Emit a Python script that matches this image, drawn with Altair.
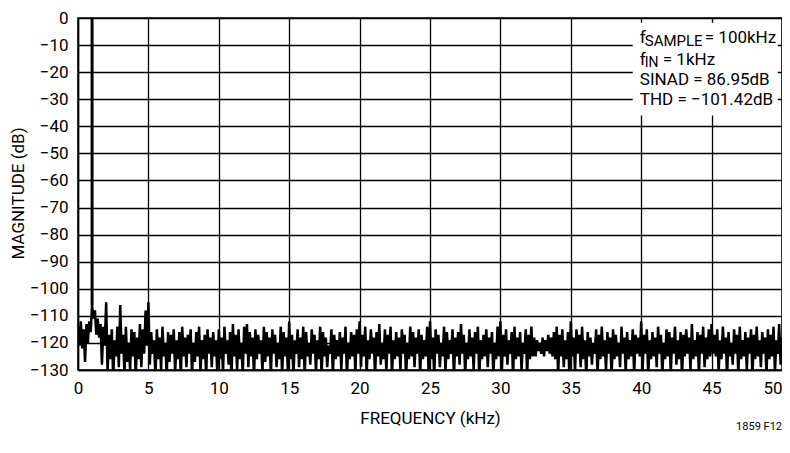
import altair as alt
import pandas as pd

FONT = "Roboto, Liberation Sans, Arial, sans-serif"

# FFT magnitude (dB), one value every 0.1 kHz, split per 5 kHz
seg_00_05 = [-114,-121,-112,-122,-115,-127,-113,-120,-112,-116,
             -106,-111,-108,-117,-111,-118,-113,-128,-114,-121,
             -105,-131,-117,-126,-115,-133,-119,-125,-114,-129,
             -106,-124,-117,-132,-114,-127,-120,-130,-115,-125,
             -116,-133,-118,-126,-113,-129,-115,-124,-108,-121]
seg_05_10 = [-105,-128,-116,-124,-119,-133,-115,-126,-118,-130,
             -114,-125,-120,-132,-116,-127,-117,-124,-115,-131,
             -119,-126,-116,-133,-114,-125,-118,-129,-117,-124,
             -115,-132,-120,-127,-116,-125,-114,-131,-119,-126,
             -117,-133,-115,-124,-118,-129,-116,-125,-119,-132]
seg_10_15 = [-115,-126,-118,-131,-114,-124,-119,-128,-116,-133,
             -113,-125,-117,-130,-115,-126,-120,-132,-114,-124,
             -113,-129,-116,-125,-118,-133,-115,-126,-117,-124,
             -119,-131,-114,-127,-116,-125,-118,-132,-115,-124,
             -117,-129,-120,-126,-114,-133,-116,-125,-118,-130]
seg_15_20 = [-112,-126,-117,-132,-119,-124,-115,-129,-118,-126,
             -114,-133,-116,-125,-120,-128,-115,-124,-117,-131,
             -119,-126,-114,-133,-116,-125,-118,-129,-121,-124,
             -115,-132,-117,-126,-119,-125,-116,-130,-118,-124,
             -114,-133,-120,-126,-116,-125,-117,-131,-115,-124]
seg_20_25 = [-112,-129,-117,-125,-114,-132,-119,-126,-115,-124,
             -118,-133,-116,-125,-113,-128,-120,-126,-115,-131,
             -117,-124,-114,-132,-119,-126,-116,-125,-118,-130,
             -115,-124,-117,-133,-120,-126,-114,-125,-116,-129,
             -118,-124,-115,-132,-117,-126,-119,-125,-114,-131]
seg_25_30 = [-112,-126,-118,-133,-115,-124,-117,-129,-120,-125,
             -114,-131,-116,-126,-119,-124,-115,-133,-118,-125,
             -116,-128,-113,-124,-117,-132,-120,-126,-115,-125,
             -118,-130,-116,-124,-114,-133,-119,-126,-117,-125,
             -115,-129,-118,-124,-116,-132,-120,-126,-114,-125]
seg_30_35 = [-112,-131,-117,-125,-115,-128,-119,-124,-116,-133,
             -114,-126,-118,-125,-116,-130,-120,-124,-115,-132,
             -117,-126,-114,-125,-118,-125,-119,-123,-120,-124,
             -118,-125,-119,-123,-117,-124,-118,-125,-116,-126,
             -114,-132,-117,-125,-115,-129,-119,-126,-116,-133]
seg_35_40 = [-112,-125,-118,-131,-115,-124,-117,-129,-114,-126,
             -119,-133,-116,-125,-118,-128,-120,-124,-115,-132,
             -117,-126,-114,-125,-119,-130,-116,-124,-118,-133,
             -115,-126,-117,-125,-120,-129,-114,-124,-118,-131,
             -116,-126,-119,-125,-115,-132,-117,-124,-118,-125]
seg_40_45 = [-112,-130,-117,-124,-115,-133,-119,-126,-116,-125,
             -118,-129,-114,-124,-117,-132,-120,-126,-115,-125,
             -116,-131,-118,-124,-114,-128,-119,-126,-116,-133,
             -117,-125,-115,-124,-118,-130,-113,-126,-119,-125,
             -116,-132,-117,-124,-114,-129,-118,-126,-115,-125]
seg_45_50 = [-113,-124,-117,-125,-115,-131,-119,-126,-114,-124,
             -118,-133,-116,-125,-120,-128,-115,-124,-117,-132,
             -114,-126,-119,-125,-116,-130,-118,-124,-115,-133,
             -117,-126,-114,-125,-119,-129,-116,-124,-118,-132,
             -115,-126,-117,-125,-114,-131,-119,-124,-113,-128,
             -118]

BIN_KHZ = 0.1
magnitude = (seg_00_05 + seg_05_10 + seg_10_15 + seg_15_20 + seg_20_25 +
             seg_25_30 + seg_30_35 + seg_35_40 + seg_40_45 + seg_45_50)
frequency = [round(i * BIN_KHZ, 1) for i in range(len(magnitude))]

# fundamental tone
fund_freq = [1.0]
fund_top = [0]
fund_base = [-106]

x_ticks = [0, 5, 10, 15, 20, 25, 30, 35, 40, 45, 50]
y_ticks = [0, -10, -20, -30, -40, -50, -60, -70, -80, -90, -100, -110, -120, -130]

noise = pd.DataFrame({"f": frequency, "db": magnitude})
fund = pd.DataFrame({"f": fund_freq, "top": fund_top, "base": fund_base})

xs = alt.Scale(domain=[0, 50], nice=False, zero=False)
ys = alt.Scale(domain=[-130, 0], nice=False, zero=False)

x_axis = alt.Axis(values=x_ticks, title="FREQUENCY (kHz)", grid=True,
                  gridColor="black", gridOpacity=1, gridWidth=1.3,
                  domainColor="black", domainWidth=1.5, ticks=False,
                  labelPadding=10, labelFontSize=17, labelFont=FONT,
                  labelColor="black", titleFont=FONT, titleFontSize=17,
                  titleFontWeight="normal", titleColor="black", titlePadding=14,
                  labelAlign=alt.condition("datum.value == 50", alt.value("right"), alt.value("center")),
                  labelFlush=False, labelOverlap=False)
y_axis = alt.Axis(values=y_ticks, title="MAGNITUDE (dB)", grid=True,
                  gridColor="black", gridOpacity=1, gridWidth=1.3,
                  domainColor="black", domainWidth=1.5, ticks=False,
                  labelPadding=10, labelFontSize=17, labelFont=FONT,
                  labelColor="black", titleFont=FONT, titleFontSize=17,
                  titleFontWeight="normal", titleColor="black",
                  titleX=-60, titleY=175, titleAngle=-90, titleAlign="center",
                  titleBaseline="middle",
                  labelExpr="datum.value < 0 ? '\u2212' + format(-datum.value, 'd') : '0'",
                  labelFlush=False, labelOverlap=False)


def X(field):
    return alt.X(field, type="quantitative", scale=xs, axis=x_axis)


def Y(field):
    return alt.Y(field, type="quantitative", scale=ys, axis=y_axis)


line = alt.Chart(noise).mark_line(color="black", strokeWidth=2.5, clip=True).encode(
    x=X("f"), y=Y("db"))

tone = alt.Chart(fund).mark_rule(color="black", strokeWidth=3).encode(
    x=X("f"), y=Y("top"), y2="base:Q")

# annotation box
box_df = pd.DataFrame({"x1": [39.4], "x2": [49.7], "y1": [-1.8], "y2": [-36.0]})
box = alt.Chart(box_df).mark_rect(fill="white").encode(
    x=X("x1"), x2="x2:Q", y=Y("y1"), y2="y2:Q")


def txt(x, y, s, dx=0, dy=0, size=17):
    d = pd.DataFrame({"x": [x], "y": [y], "t": [s]})
    return alt.Chart(d).mark_text(align="left", baseline="alphabetic", font=FONT,
                                  fontSize=size, color="black", dx=dx, dy=dy).encode(
        x=X("x"), y=Y("y"), text="t:N")


ax = 39.9
ann = [
    txt(ax, -9.3, "f"),
    txt(ax, -9.3, "SAMPLE", dx=5, dy=3, size=15),
    txt(ax, -9.3, "= 100kHz", dx=65),
    txt(ax, -17.2, "f"),
    txt(ax, -17.2, "IN", dx=5, dy=2, size=14),
    txt(ax, -17.2, "= 1kHz", dx=23),
    txt(ax, -24.9, "SINAD = 86.95dB"),
    txt(ax, -32.1, "THD = \u2212101.42dB"),
]

note_df = pd.DataFrame({"x": [50], "t": ["1859 F12"]})
note = alt.Chart(note_df).mark_text(align="right", baseline="alphabetic", font=FONT,
                                    fontSize=11, color="black").encode(
    x=X("x"), y=alt.value(412), text="t:N")

chart = alt.layer(line, tone, box, *ann, note).properties(
    width=704, height=352,
    autosize=alt.AutoSizeParams(type="none"),
    padding={"left": 70, "top": 10, "right": 0, "bottom": 70},
).configure_view(stroke="black", strokeWidth=1.5).configure_axis(labelOverlap=False)

chart.save("out.html", embed_options={"renderer": "svg", "actions": False})
